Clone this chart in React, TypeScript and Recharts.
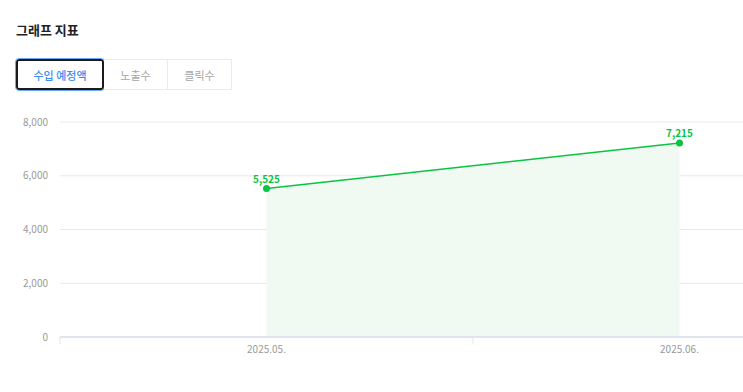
import { ComposedChart, Area, Line, XAxis, YAxis, CartesianGrid, LabelList } from "recharts";

const months = ["2025.05.", "2025.06."];
const revenue = [5525, 7215];
const yTicks = [0, 2000, 4000, 6000, 8000];
const tabs = ["수입 예정액", "노출수", "클릭수"];

const GREEN = "#0ac441";

// points sit in the middle of each month band, tick marks on the band edges
const data = months.map((m, i) => ({ x: i + 0.5, month: m, revenue: revenue[i] }));
const xTicks = [0, 0.5, 1, 1.5, 2];

const fmt = (v: number) => v.toLocaleString("en-US");

const XTick = (props: any) => {
  const { x, y, payload } = props;
  const v = payload.value;
  if (Number.isInteger(v)) {
    return <line x1={x} x2={x} y1={y} y2={y + 7} stroke="#dfe4ee" strokeWidth={1} />;
  }
  const idx = Math.floor(v);
  return (
    <text x={x} y={y + 16} textAnchor="middle" fontSize={10} fill="#9a9a9a">
      {months[idx]}
    </text>
  );
};

export default function App() {
  const font = "'Noto Sans CJK KR', 'Noto Sans', sans-serif";
  return (
    <div style={{ width: 735, height: 376 }}>
      <div
        style={{
          position: "fixed",
          left: 8,
          top: 8,
          width: 735,
          height: 376,
          overflow: "hidden",
          fontFamily: font,
          background: "#fff",
        }}
      >
        <div style={{ position: "absolute", left: 8, top: 12, fontSize: 13, fontWeight: 700, color: "#222" }}>
          그래프 지표
        </div>
        <div style={{ position: "absolute", left: 8, top: 51, display: "flex" }}>
          {tabs.map((t, i) => (
            <div
              key={t}
              style={{
                boxSizing: "border-box",
                width: i === 0 ? 88 : 64,
                height: 31,
                display: "flex",
                alignItems: "center",
                justifyContent: "center",
                fontSize: 11,
                fontWeight: i === 0 ? 500 : 400,
                color: i === 0 ? "#3d8ef0" : "#a5a5a5",
                border: i === 0 ? "2px solid #1a1a1a" : "1px solid #ebebeb",
                borderLeft: i === 0 ? "2px solid #1a1a1a" : "none",
                borderRadius: i === 0 ? 3 : 0,
                outline: i === 0 ? "1px solid #6aa9f5" : "none",
                background: "#fff",
              }}
            >
              {t}
            </div>
          ))}
        </div>
        <div style={{ position: "absolute", left: 0, top: 98 }}>
          <ComposedChart width={878} height={261} data={data} margin={{ top: 16, right: 0, bottom: 0, left: 0 }}>
            <CartesianGrid vertical={false} stroke="#e8e8e8" />
            <XAxis
              dataKey="x"
              type="number"
              domain={[0, 2]}
              ticks={xTicks}
              tick={<XTick />}
              tickLine={false}
              tickSize={0}
              tickMargin={0}
              axisLine={{ stroke: "#dfe4ee", strokeWidth: 2 }}
              height={30}
              interval={0}
            />
            <YAxis
              domain={[0, 8000]}
              ticks={yTicks}
              width={52}
              tickFormatter={fmt}
              tickLine={false}
              axisLine={false}
              tickSize={0}
              tickMargin={12}
              tick={{ fontSize: 10, fill: "#9a9a9a" }}
            />
            <Area dataKey="revenue" type="linear" stroke="none" fill="#f0faf2" fillOpacity={1} isAnimationActive={false} />
            <Line
              dataKey="revenue"
              type="linear"
              stroke={GREEN}
              strokeWidth={1.5}
              dot={{ r: 3.5, fill: GREEN, stroke: GREEN, strokeWidth: 0 }}
              isAnimationActive={false}
            >
              <LabelList dataKey="revenue" position="top" offset={6} formatter={fmt} fill={GREEN} fontSize={10} fontWeight={700} />
            </Line>
          </ComposedChart>
        </div>
      </div>
    </div>
  );
}
